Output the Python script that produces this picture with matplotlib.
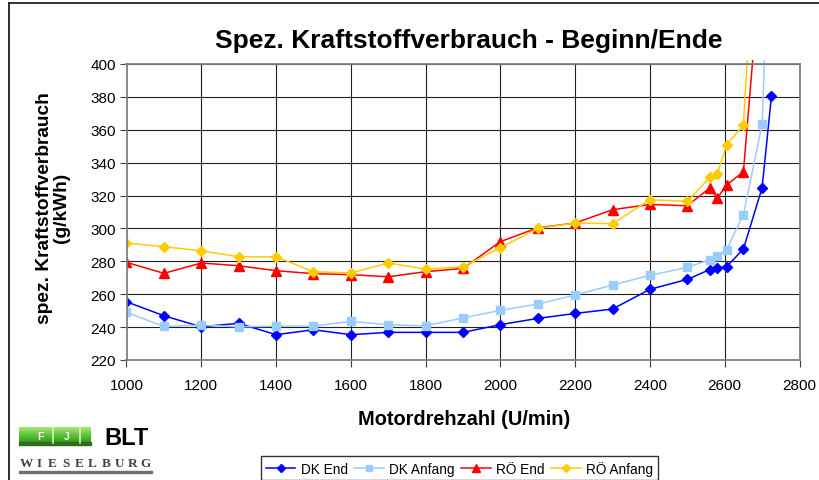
import matplotlib
matplotlib.use('Agg')
import matplotlib.pyplot as plt
from matplotlib.patches import Rectangle
from matplotlib.lines import Line2D
import numpy as np

plt.rcParams['font.family'] = ['Liberation Sans', 'DejaVu Sans']

# ---- data ----
rpm_low = [1000, 1100, 1200, 1300, 1400, 1500, 1600, 1700, 1800, 1900, 2000,
           2100, 2200, 2300, 2400, 2500, 2560, 2580, 2605, 2650]

dk_end_rpm = rpm_low + [2700, 2725]
dk_end = [255.4, 246.9, 240.2, 242.3, 235.4, 238.4, 235.4, 236.8, 236.8, 236.8, 241.5,
          245.3, 248.3, 251.0, 263.0, 269.0, 275.0, 276.0, 276.7, 287.5, 324.8, 380.5]

dk_anf_rpm = rpm_low + [2700, 2725]
dk_anf = [249.0, 240.4, 241.2, 240.2, 240.6, 240.6, 243.5, 241.4, 240.8, 245.6, 250.2,
          254.0, 259.5, 265.6, 271.5, 276.3, 281.0, 283.0, 287.0, 308.4, 363.3, 520.0]

ro_end_rpm = rpm_low + [2700]
ro_end = [279.4, 272.7, 279.0, 277.3, 274.3, 272.5, 271.9, 270.6, 273.7, 275.7, 292.0,
          300.4, 303.3, 311.4, 314.6, 313.8, 324.6, 318.5, 326.4, 334.5, 471.0]

ro_anf_rpm = rpm_low + [2700]
ro_anf = [291.1, 288.9, 286.4, 282.8, 282.8, 273.7, 272.9, 279.0, 275.3, 276.7, 288.3,
          300.0, 303.3, 302.9, 317.5, 316.5, 331.0, 333.0, 350.7, 363.0, 557.0]

labels = ['DK End', 'DK Anfang', 'RÖ End', 'RÖ Anfang']

W, H = 819, 481
fig = plt.figure(figsize=(W / 100, H / 100), dpi=100)
fig.patch.set_facecolor('white')

ax = fig.add_axes([126.5 / W, 1 - 361 / H, (799.5 - 126.5) / W, (361 - 65) / H])

series = [
    (dk_end_rpm, dk_end, '#0000FF', 'D', 5),
    (dk_anf_rpm, dk_anf, '#99CCFF', 's', 5.5),
    (ro_end_rpm, ro_end, '#FF0000', '^', 6.5),
    (ro_anf_rpm, ro_anf, '#FFCC00', 'D', 5),
]
# lines run a few pixels past the top of the plot area, like in the original
clip = Rectangle((0, 0), 1, 1.012, transform=ax.transAxes)
for (x, y, c, m, ms), lab in zip(series, labels):
    ln, = ax.plot(x, y, color=c, marker=m, markersize=ms, linewidth=1.1, label=lab,
                  markeredgecolor=c)
    ln.set_clip_path(clip)

ax.set_xlim(1000, 2800)
ax.set_ylim(220, 400)
ax.set_xticks(np.arange(1000, 2801, 200))
ax.set_yticks(np.arange(220, 401, 20))
ax.grid(True, color='#202020', linewidth=0.8)
ax.set_axisbelow(True)
for s in ax.spines.values():
    s.set_color('#808080')
    s.set_linewidth(1.3)
ax.tick_params(axis='both', labelsize=11, length=5, width=0.8, color='#404040')
ax.tick_params(axis='y', pad=2.5)
ax.tick_params(axis='x', pad=8)

fig.text(469 / W, 1 - 48 / H, 'Spez. Kraftstoffverbrauch - Beginn/Ende',
         fontsize=19, fontweight='bold', ha='center', va='baseline')
fig.text(464 / W, 1 - 425 / H, 'Motordrehzahl (U/min)',
         fontsize=14.4, fontweight='bold', ha='center', va='baseline')
fig.text(53 / W, 1 - 208 / H, 'spez. Kraftstoffverbrauch\n(g/kWh)',
         fontsize=13.8, fontweight='bold', ha='center', va='center',
         rotation=90, multialignment='center', linespacing=1.0)

leg = fig.legend(loc='lower center', bbox_to_anchor=(459.5 / W, -0.015), ncol=4,
                 fontsize=9.8, frameon=True, fancybox=False, edgecolor='black',
                 handlelength=2.2, handletextpad=0.4, columnspacing=0.45,
                 borderpad=0.35, markerscale=0.8)
leg.get_frame().set_linewidth(1.0)

# outer chart frame
fig.add_artist(Line2D([8.5 / W, 8.5 / W], [0, 1 - 4 / H], color='#202020', lw=1.3))
fig.add_artist(Line2D([8.5 / W, 1], [1 - 4 / H, 1 - 4 / H], color='#202020', lw=1.3))

# logo (pixel coordinates)
lax = fig.add_axes([0, 0, 170 / W, 61 / H])
grad = np.linspace(0, 1, 20).reshape(-1, 1)
lax.imshow(grad, extent=(19, 91, 446, 428), cmap=matplotlib.colors.LinearSegmentedColormap.from_list(
    'g', ['#a6e476', '#55bd33', '#2f8a1c']), aspect='auto', zorder=1)
lax.set_xlim(0, 170)
lax.set_ylim(481, 420)
lax.axis('off')
lax.add_patch(Rectangle((19, 443.5), 72, 2.5, color='#2d6e1a', zorder=2))
for xs in (53, 80):
    lax.plot([xs, xs], [429, 444], color='#d8f0c8', lw=1.2, zorder=3)
lax.text(40, 437, 'F', color='white', fontsize=7.5, fontweight='bold', ha='center', va='center', zorder=4)
lax.text(67, 437, 'J', color='white', fontsize=7.5, fontweight='bold', ha='center', va='center', zorder=4)
lax.text(127, 445, 'BLT', color='black', fontsize=17, fontweight='bold', ha='center', va='baseline')
for i, ch in enumerate('WIESELBURG'):
    lax.text(26 + i * 13.3, 467.5, ch, fontsize=9.5, fontweight='bold', color='#404040',
             family='Liberation Serif', ha='center', va='baseline')
lax.add_patch(Rectangle((19, 472), 133, 2, color='#707070'))

fig.savefig('out.png', dpi=100, facecolor='white')
